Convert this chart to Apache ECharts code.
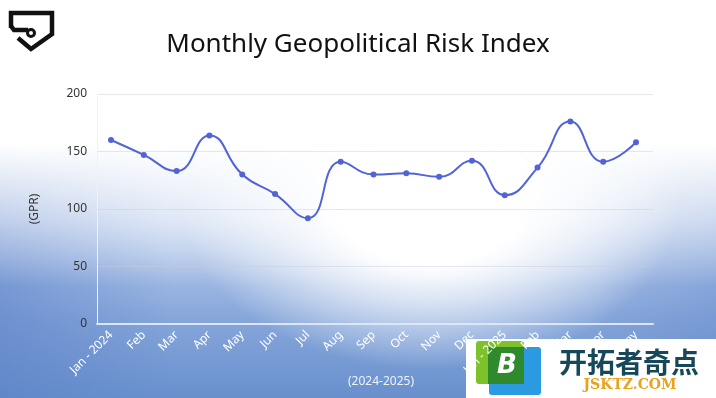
<!DOCTYPE html>
<html>
<head>
<meta charset="utf-8">
<script src="https://cdn.jsdelivr.net/npm/echarts@6/dist/echarts.min.js"></script>
<style>
    html, body { margin: 0; padding: 0; }
    body {
        width: 716px; height: 398px; overflow: hidden;
        background:
            radial-gradient(ellipse 250px 170px at 430px 200px, rgba(255,255,255,1) 38%, rgba(255,255,255,0) 100%),
            linear-gradient(to bottom, #ffffff 0%, #ffffff 36%, rgba(255,255,255,0) 72%),
            linear-gradient(to right, rgba(90,128,200,0.55) 0%, rgba(90,128,200,0) 24%, rgba(90,128,200,0) 82%, rgba(90,128,200,0.3) 100%),
            linear-gradient(to bottom, #eef2fa 0%, #c4d4ef 55%, #86a6da 80%, #6990cd 100%);
    }
    #chart { width: 716px; height: 398px; }
</style>
</head>
<body>
<div id="chart"></div>
<script>
// 月份（2024-2025）
const months = ['Jan - 2024', 'Feb', 'Mar', 'Apr', 'May', 'Jun', 'Jul', 'Aug', 'Sep', 'Oct', 'Nov', 'Dec',
    'Jan - 2025', 'Feb', 'Mar', 'Apr', 'May']
// GPR 指数
const gpr = [160, 147, 133, 164, 130, 113, 92, 141, 130, 131, 128, 142, 112, 136, 176, 141, 158]
const yTicks = [0, 50, 100, 150, 200]

let myChart = echarts.init(document.querySelector('#chart'))

const option = {
    backgroundColor: 'transparent',
    title: {
        text: 'Monthly Geopolitical Risk Index',
        left: 'center',
        top: 27,
        textStyle: {
            color: '#111',
            fontSize: 26,
            fontWeight: 'normal',
            fontFamily: 'Noto Sans'
        }
    },
    // 两个grid：一个画网格线，一个画折线
    grid: [
        { left: 97, right: 63, top: 94, bottom: 74 },
        { left: 111, right: 80, top: 94, bottom: 74 }
    ],
    xAxis: [
        {
            gridIndex: 0,
            type: 'value',
            min: 0, max: 1,
            axisLabel: { show: false },
            axisTick: { show: false },
            splitLine: { show: false },
            axisLine: { show: true, lineStyle: { color: '#dbe6f6', width: 2 } }
        },
        {
            gridIndex: 1,
            type: 'category',
            data: months,
            boundaryGap: false,
            axisLine: { show: false },
            axisTick: { show: false },
            axisLabel: {
                interval: 0,
                rotate: 45,
                color: '#ffffff',
                fontSize: 12,
                margin: 9,
                fontFamily: 'Noto Sans'
            }
        }
    ],
    yAxis: [
        {
            gridIndex: 0,
            type: 'value',
            min: yTicks[0],
            max: yTicks[yTicks.length - 1],
            interval: 50,
            name: '(GPR)',
            nameLocation: 'middle',
            nameRotate: 90,
            nameGap: 56,
            nameTextStyle: { color: '#333', fontSize: 12, fontFamily: 'Noto Sans' },
            axisLine: { show: true, lineStyle: { color: '#eef2fa', width: 1 } },
            axisTick: { show: false },
            axisLabel: { color: '#333', fontSize: 12, margin: 10, fontFamily: 'Noto Sans' },
            splitLine: { lineStyle: { color: 'rgba(200,205,215,0.45)', width: 1 } }
        },
        {
            gridIndex: 1,
            type: 'value',
            min: 0, max: 200,
            show: false,
            splitLine: { show: false }
        }
    ],
    series: [
        {
            name: 'GPR',
            type: 'line',
            xAxisIndex: 1,
            yAxisIndex: 1,
            data: gpr,
            smooth: true,
            symbol: 'circle',
            symbolSize: 6,
            color: '#5163d6',
            lineStyle: { width: 2, color: '#5163d6' }
        }
    ],
    graphic: [
        // x轴名称
        {
            type: 'text', left: 348, top: 376,
            style: { text: '(2024-2025)', fill: '#eef3fb', fontSize: 12, fontFamily: 'Noto Sans' }
        },
        // 左上角logo
        {
            type: 'polyline',
            shape: { points: [[11, 28], [11, 13], [52, 13], [52, 34], [31, 49], [18, 38]] },
            style: { fill: 'none', stroke: '#111', lineWidth: 4.5, lineJoin: 'miter' }
        },
        {
            type: 'polyline',
            shape: { points: [[11, 26], [14, 30], [28, 30]] },
            style: { fill: 'none', stroke: '#111', lineWidth: 4.5 }
        },
        {
            type: 'circle', shape: { cx: 31, cy: 33, r: 3.5 },
            style: { fill: '#fff', stroke: '#111', lineWidth: 3 }
        },
        // 右下角水印
        {
            type: 'rect', shape: { x: 466, y: 339, width: 250, height: 59 },
            style: { fill: '#ffffff' }
        },
        {
            type: 'rect', shape: { x: 489, y: 347, width: 52, height: 48, r: 3 },
            style: { fill: '#2b9ae0' }
        },
        {
            type: 'rect', shape: { x: 476, y: 341, width: 48, height: 43, r: 3 },
            style: { fill: '#7dc22a' }
        },
        {
            type: 'rect', shape: { x: 488, y: 347, width: 36, height: 37 },
            style: { fill: '#2f8a2e' }
        },
        {
            type: 'text', x: 497, y: 366,
            style: {
                text: 'B', fill: '#fff', fontSize: 26, fontWeight: 'bold', fontStyle: 'italic',
                fontFamily: 'DejaVu Sans', verticalAlign: 'middle'
            }
        },
        {
            type: 'text', x: 629, y: 362,
            style: {
                text: '开拓者奇点', fill: '#17485a', fontSize: 28, fontWeight: 'bold',
                fontFamily: 'Noto Sans CJK SC', align: 'center', verticalAlign: 'middle'
            }
        },
        {
            type: 'text', x: 630, y: 385,
            style: {
                text: 'JSKTZ.COM', fill: '#e9a21a', fontSize: 14, fontWeight: 'bold',
                fontFamily: 'DejaVu Serif', align: 'center', verticalAlign: 'middle'
            }
        }
    ]
}

myChart.setOption(option)
</script>
</body>
</html>
